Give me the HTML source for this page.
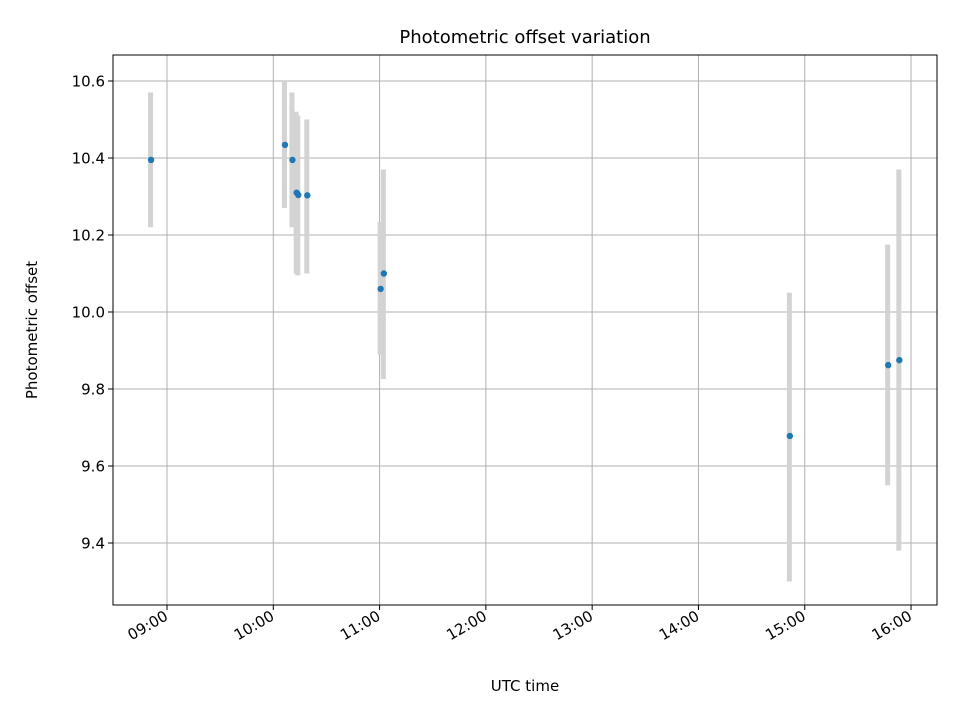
<!DOCTYPE html>
<html><head><meta charset="utf-8"><style>
body{margin:0;background:#fff;font-family:"Liberation Sans","DejaVu Sans",sans-serif}
</style></head><body>
<svg id="chart" width="960" height="720" xmlns="http://www.w3.org/2000/svg" font-family="DejaVu Sans, Liberation Sans, sans-serif"></svg>
<script>
const times = [8.85, 10.11, 10.18, 10.22, 10.235, 10.32, 11.01, 11.04, 14.86, 15.785, 15.89];
const offsets = [10.395, 10.434, 10.395, 10.31, 10.304, 10.303, 10.06, 10.10, 9.678, 9.862, 9.875];
const errLow = [10.22, 10.27, 10.22, 10.10, 10.095, 10.10, 9.89, 9.826, 9.30, 9.55, 9.38];
const errHigh = [10.57, 10.60, 10.57, 10.52, 10.51, 10.50, 10.234, 10.37, 10.05, 10.175, 10.37];
const yTicks = [9.4, 9.6, 9.8, 10.0, 10.2, 10.4, 10.6];
const xTicks = [9, 10, 11, 12, 13, 14, 15, 16];
const xTickLabels = ["09:00","10:00","11:00","12:00","13:00","14:00","15:00","16:00"];

const L=113,R=937,T=55,B=605;
const xs = h => 167 + (h-9)*106.29;
const ys = v => 312 - (v-10)*385;
const svg=document.getElementById('chart');
const NS='http://www.w3.org/2000/svg';
function mk(tag,attrs,parent){const e=document.createElementNS(NS,tag);for(const k in attrs)e.setAttribute(k,attrs[k]);(parent||svg).appendChild(e);return e;}

const grid=mk('g',{});


xTicks.forEach(t=>{mk('line',{x1:xs(t),x2:xs(t),y1:T,y2:B,stroke:'#b0b0b0','stroke-width':1},grid);});
yTicks.forEach(t=>{mk('line',{x1:L,x2:R,y1:ys(t),y2:ys(t),stroke:'#b0b0b0','stroke-width':1},grid);});

const eb=mk('g',{});


times.forEach((t,i)=>{
  const l=mk('line',{x1:xs(t)-0.5,x2:xs(t)-0.5,y1:ys(errLow[i]),y2:ys(errHigh[i]),stroke:'#d3d3d3','stroke-width':5},eb);
  
  
});
const pts=mk('g',{});


times.forEach((t,i)=>{
  const c=mk('circle',{cx:xs(t),cy:ys(offsets[i]),r:3.2,fill:'#1f77b4'},pts);
  
  
});

const frame=mk('rect',{x:L,y:T,width:R-L,height:B-T,fill:'none',stroke:'#000','stroke-width':1});



const ya=mk('g',{});


yTicks.forEach(t=>{
  mk('line',{x1:L-5,x2:L,y1:ys(t),y2:ys(t),stroke:'#000'},ya);
  const tx=mk('text',{x:L-8,y:ys(t)+5.5,'text-anchor':'end','font-size':15,fill:'#000'},ya);
  tx.textContent=t.toFixed(1);
  
  
});
const xa=mk('g',{});


xTicks.forEach((t,i)=>{
  const x=xs(t);
  mk('line',{x1:x,x2:x,y1:B,y2:B+5,stroke:'#000'},xa);
  const tx=mk('text',{x:x+2,y:B+14,'text-anchor':'end','font-size':15,fill:'#000',transform:`rotate(-30 ${x+2} ${B+14})`},xa);
  tx.textContent=xTickLabels[i];
  
  
});
const xt=mk('text',{x:525,y:691,'text-anchor':'middle','font-size':15});
xt.textContent='UTC time';


const yt=mk('text',{x:37,y:330,'text-anchor':'middle','font-size':15,transform:'rotate(-90 37 330)'});
yt.textContent='Photometric offset';


const ti=mk('text',{x:525,y:43,'text-anchor':'middle','font-size':18});
ti.textContent='Photometric offset variation';


</script>
</body></html>
